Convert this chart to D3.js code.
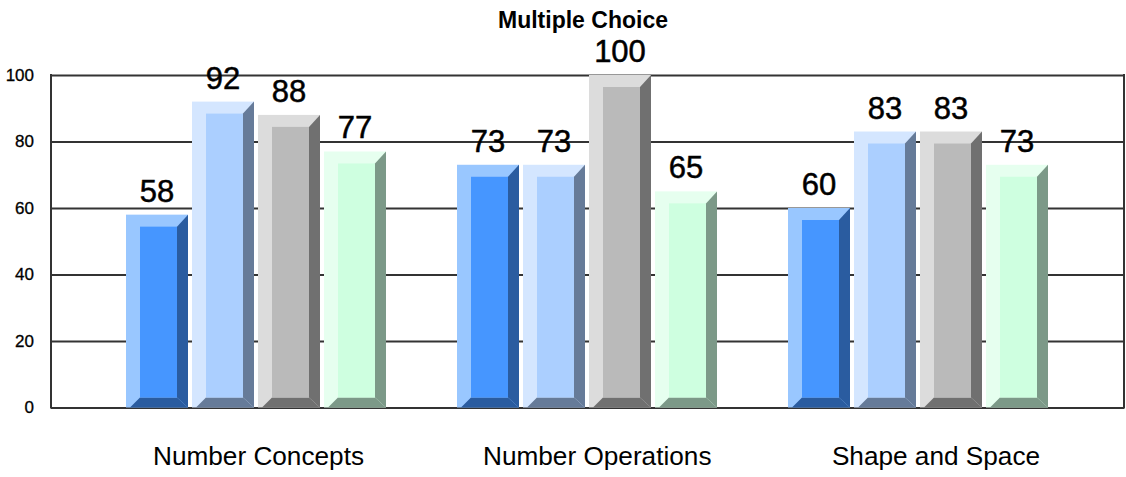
<!DOCTYPE html>
<html>
<head>
<meta charset="utf-8">
<script src="https://cdn.jsdelivr.net/npm/d3@7"></script>
<style>
  html, body { margin: 0; padding: 0; background: #fff; }
  svg { display: block; }
  text { font-family: "Liberation Sans", Arial, sans-serif; fill: #000; }
  .grid line { stroke: #333; stroke-width: 2; }
  .grid .domain { display: none; }
  .ticks .domain, .ticks line { display: none; }
</style>
</head>
<body>
<div id="chart"></div>
<script>
var categories = ["Number Concepts", "Number Operations", "Shape and Space"]
var series = ["a", "b", "c", "d"]
var values = [
  [58, 92, 88, 77],
  [73, 73, 100, 65],
  [60, 83, 83, 73]
]
var yTicks = [0, 20, 40, 60, 80, 100]
var faces = {
  a: { light: "#99c7ff", front: "#4696ff", dark: "#2a5ca0" },
  b: { light: "#d4e6ff", front: "#abcfff", dark: "#667b99" },
  c: { light: "#dcdcdc", front: "#bababa", dark: "#707070" },
  d: { light: "#e6ffef", front: "#ceffe0", dark: "#7c9988" }
}

var w = 1126, h = 477
var left = 51, right = 1124, top0 = 75, bottom = 407.5
var bevel = 12

var svg = d3.select("#chart").append("svg").attr("width", w).attr("height", h)

var y = d3.scaleLinear().domain([0, 100]).range([bottom, top0])
var x0 = d3.scaleBand().domain(categories).range([92, 1085])
var x1 = d3.scaleBand().domain(series).range([34, 298])
// category captions are spaced wider than the bar groups
var xLabel = d3.scalePoint().domain(categories).range([258.5, 936])

svg.append("g").attr("class", "grid")
  .attr("transform", "translate(" + left + ",0)")
  .call(d3.axisLeft(y).tickValues(yTicks).tickSize(-(right - left)).tickFormat(""))

svg.append("g").attr("class", "ticks")
  .attr("transform", "translate(" + (left - 17) + ",0)")
  .call(d3.axisLeft(y).tickValues(yTicks).tickSize(0).tickPadding(0))
  .selectAll("text")
  .style("font-size", "17px")
  .style("font-family", '"Liberation Sans", Arial, sans-serif')
  .style("stroke", "#000").style("stroke-width", 0.3)

svg.selectAll(".edge").data([left, right]).enter().append("line")
  .attr("class", "edge")
  .attr("x1", function(d) { return d }).attr("x2", function(d) { return d })
  .attr("y1", top0 - 1).attr("y2", bottom + 1)
  .attr("stroke", "#333").attr("stroke-width", 2)

function poly(pts) { return pts.map(function(p) { return p.join(",") }).join(" ") }

categories.forEach(function(cat, i) {
  var g = svg.append("g").attr("transform", "translate(" + x0(cat) + ",0)")
  series.forEach(function(s, j) {
    var v = values[i][j]
    var bw = x1.bandwidth() - 4
    var a = x1(s), b = a + bw
    var t = y(v), f = faces[s]
    var il = a + bevel + 2, ir = b - bevel + 1, it = t + bevel, ib = bottom - bevel + 2
    g.append("rect").attr("x", a).attr("y", t).attr("width", bw).attr("height", bottom - t).attr("fill", f.light)
    g.append("polygon").attr("fill", f.dark)
      .attr("points", poly([[b, t], [b, bottom], [ir, ib], [ir, it]]))
    g.append("polygon").attr("fill", f.dark)
      .attr("points", poly([[a + 4, bottom], [il, ib], [ir, ib], [b, bottom]]))
    g.append("rect").attr("x", il).attr("y", it).attr("width", ir - il).attr("height", ib - it).attr("fill", f.front)
    g.append("text")
      .attr("x", a + bw / 2).attr("y", t - 13)
      .attr("text-anchor", "middle").style("font-size", "31px")
      .style("stroke", "#000").style("stroke-width", 0.5)
      .text(v)
  })
  svg.append("text")
    .attr("x", xLabel(cat)).attr("y", 465)
    .attr("text-anchor", "middle").style("font-size", "26.2px")
    .text(cat)
})

svg.append("text")
  .attr("x", 583).attr("y", 28)
  .attr("text-anchor", "middle").style("font-size", "23px").style("font-weight", "bold")
  .text("Multiple Choice")
</script>
</body>
</html>
